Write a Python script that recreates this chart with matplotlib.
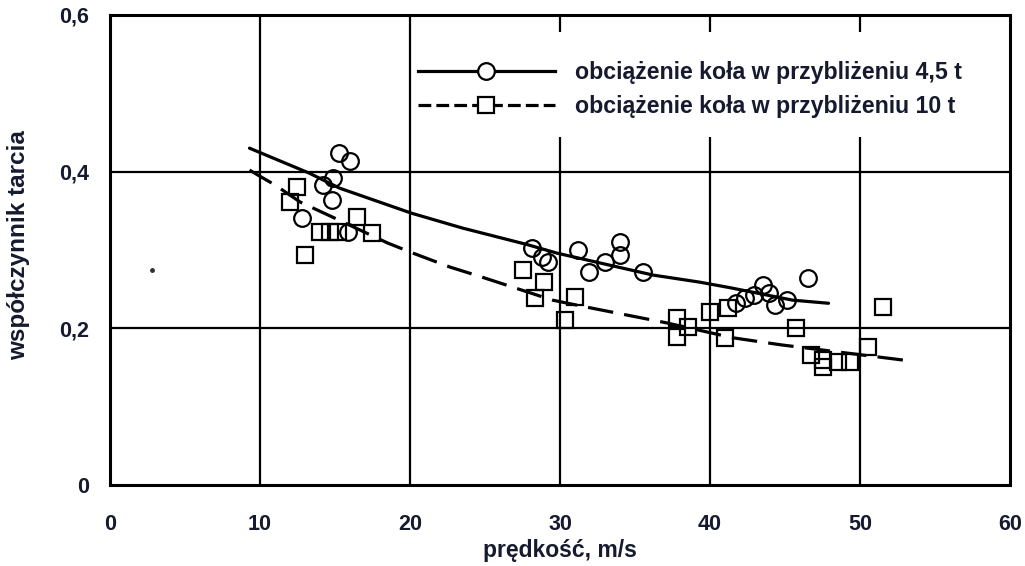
import matplotlib
matplotlib.use("Agg")
import matplotlib.pyplot as plt
from matplotlib.lines import Line2D
from matplotlib.patches import Rectangle

plt.rcParams['font.family'] = ['Liberation Sans', 'DejaVu Sans']

# ---- data ----
circle_x = [15.3, 16.0, 14.9, 14.2, 14.8, 12.8, 15.9,
            28.1, 28.8, 29.2, 31.2, 31.9, 33.0, 34.0, 34.0, 35.5,
            41.7, 42.3, 42.9, 43.5, 43.9, 44.3, 45.1, 46.5]
circle_y = [0.424, 0.413, 0.392, 0.383, 0.364, 0.341, 0.323,
            0.303, 0.291, 0.285, 0.300, 0.272, 0.285, 0.310, 0.294, 0.272,
            0.232, 0.239, 0.243, 0.255, 0.245, 0.230, 0.236, 0.264]

square_x = [12.5, 12.0, 14.0, 14.7, 15.2, 16.5, 17.5, 13.0,
            27.5, 28.9, 28.3, 31.0, 30.3,
            37.8, 37.8, 38.5, 40.0, 41.2, 41.0, 45.7, 46.7, 47.5, 47.5,
            48.5, 49.3, 50.5, 51.5]
square_y = [0.381, 0.361, 0.323, 0.323, 0.323, 0.342, 0.322, 0.294,
            0.275, 0.259, 0.239, 0.240, 0.211,
            0.213, 0.189, 0.202, 0.221, 0.226, 0.188, 0.201, 0.166, 0.160, 0.151,
            0.157, 0.157, 0.176, 0.227]

curve1_x = [9.3, 13.3, 15.3, 20.1, 23.5, 27.8, 29.8, 36.2, 39.3, 41.3, 45.5, 47.9]
curve1_y = [0.430, 0.398, 0.379, 0.347, 0.328, 0.307, 0.296, 0.268, 0.259, 0.252, 0.236, 0.232]

curve2_x = [9.3, 10.1, 11.0, 12.7, 14.5, 18.5, 20.2, 22.7, 24.7, 29.5, 31.8, 37.1, 41.5, 44.7, 53.5]
curve2_y = [0.402, 0.393, 0.383, 0.361, 0.345, 0.309, 0.296, 0.278, 0.266, 0.236, 0.227, 0.207, 0.188, 0.179, 0.158]

stray_x = [2.8]
stray_y = [0.275]

x_ticks = [0, 10, 20, 30, 40, 50, 60]
y_ticks = [0, 0.2, 0.4, 0.6]
y_ticklabels = ['0', '0,2', '0,4', '0,6']
label_x = 'prędkość, m/s'
label_y = 'współczynnik tarcia'
legend_labels = ['obciążenie koła w przybliżeniu 4,5 t',
                 'obciążenie koła w przybliżeniu 10 t']

TXT = '#161a2e'

fig = plt.figure(figsize=(10.25, 5.66), dpi=100)
ax = fig.add_axes([0.1073, 0.1431, 0.8781, 0.8304])
ax.set_xlim(0, 60)
ax.set_ylim(0, 0.6)

# grid
for gx in [10, 20, 30, 40, 50]:
    ax.axvline(gx, color='black', lw=1.6, zorder=1)
for gy in [0.2, 0.4]:
    ax.axhline(gy, color='black', lw=1.6, zorder=1)

# white area behind legend
ax.add_patch(Rectangle((0.339, 0.740), 0.655, 0.224, transform=ax.transAxes,
                       facecolor='white', edgecolor='none', zorder=2))

ax.plot(curve1_x, curve1_y, color='black', lw=2.3, zorder=3, solid_capstyle='round')
ax.plot(curve2_x, curve2_y, color='black', lw=2.3, zorder=3, dashes=(8, 3.5))
ax.plot(circle_x, circle_y, linestyle='none', marker='o', ms=12, mfc='none',
        mec='black', mew=1.6, zorder=4)
ax.plot(square_x, square_y, linestyle='none', marker='s', ms=11.5, mfc='none',
        mec='black', mew=1.6, zorder=4)
ax.plot(stray_x, stray_y, linestyle='none', marker='o', ms=2.5, color='#333333', zorder=4)

for s in ax.spines.values():
    s.set_linewidth(2.2)
    s.set_color('black')

ax.set_xticks(x_ticks)
ax.set_xticklabels([str(v) for v in x_ticks])
ax.set_yticks(y_ticks)
ax.set_yticklabels(y_ticklabels)
ax.tick_params(length=0)
ax.tick_params(axis='x', pad=21)
ax.tick_params(axis='y', pad=15)
for lab in ax.get_xticklabels() + ax.get_yticklabels():
    lab.set_fontsize(15.5)
    lab.set_fontweight('bold')
    lab.set_color(TXT)

ax.set_xlabel(label_x, fontsize=16.5, fontweight='bold', color=TXT, labelpad=3)
ax.set_ylabel(label_y, fontsize=17.5, fontweight='bold', color=TXT)
ax.yaxis.set_label_coords(-0.089, 0.51)

handles = [
    Line2D([0], [0], color='black', lw=2.3, marker='o', ms=12, mfc='white',
           mec='black', mew=1.6),
    Line2D([0], [0], color='black', lw=2.3, dashes=(4, 1.6), marker='s', ms=11.5,
           mfc='white', mec='black', mew=1.6),
]
leg = ax.legend(handles, legend_labels, loc='upper left',
                bbox_to_anchor=(0.3422, 0.902), borderaxespad=0, borderpad=0,
                frameon=False, handlelength=5.9, handletextpad=0.85,
                labelspacing=0.48, prop={'weight': 'bold', 'size': 16.7})
for t in leg.get_texts():
    t.set_color(TXT)
leg.set_zorder(5)

fig.savefig('out.png', dpi=100)
